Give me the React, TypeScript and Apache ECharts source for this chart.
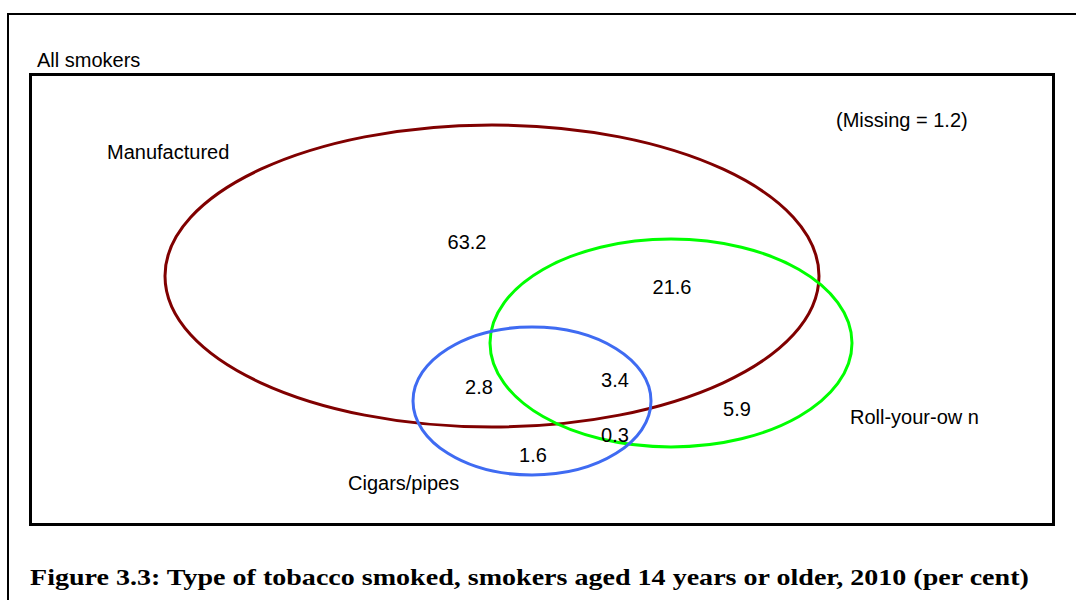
import React, { useEffect, useRef } from "react";
import * as echarts from "echarts";

// Set names and their ellipses (data for the Venn diagram)
const setNames = ["Manufactured", "Roll-your-ow n", "Cigars/pipes"];
const setColors = ["#800000", "#00ff00", "#3f6bf2"];
// ellipse geometry in chart units: [cx, cy, rx, ry]
const setEllipses = [
  [492, 276, 327, 151],
  [671, 343, 181, 104],
  [532, 401, 119, 74],
];
const setLabelPos = [
  [107, 152],
  [850, 417],
  [348, 483],
];

// Region values (per cent) and label anchors
const regionValues = ["63.2", "21.6", "2.8", "3.4", "5.9", "0.3", "1.6"];
const regionPos = [
  [467, 242],
  [672, 287],
  [479, 387],
  [615, 380],
  [737, 409],
  [615, 435],
  [533, 455],
];
const missingText = "(Missing = 1.2)";
const universeLabel = "All smokers";
const titleText =
  "Figure 3.3: Type of tobacco smoked, smokers aged 14 years or older, 2010 (per cent)";

const W = 1076;
const H = 600;
const SANS = "'Liberation Sans', Arial, sans-serif";
const FS = 20;

export default function App() {
  const ref = useRef<HTMLDivElement>(null);
  useEffect(() => {
    if (!ref.current) return;
    const chart = echarts.init(ref.current, null, { renderer: "svg" });
    const ellipseData = setEllipses.map((e, i) => [...e, i]);
    const setLabelData = setLabelPos.map((p, i) => [p[0], p[1], i]);
    const regionData = regionPos.map((p, i) => [p[0], p[1], i]);
    chart.setOption({
      animation: false,
      backgroundColor: "#ffffff",
      grid: { left: 0, right: 0, top: 0, bottom: 0 },
      xAxis: { type: "value", min: 0, max: W, show: false },
      yAxis: { type: "value", min: 0, max: H, inverse: true, show: false },
      graphic: [
        {
          type: "rect",
          shape: { x: 8, y: 14, width: 1100, height: 620 },
          style: { fill: "none", stroke: "#000", lineWidth: 2 },
          silent: true,
        },
        {
          type: "rect",
          shape: { x: 30.5, y: 74.5, width: 1023, height: 450 },
          style: { fill: "none", stroke: "#000", lineWidth: 3 },
          silent: true,
        },
        {
          type: "text",
          x: 37,
          y: 60,
          style: {
            text: universeLabel,
            font: `${FS}px ${SANS}`,
            fill: "#000",
            align: "left",
            verticalAlign: "middle",
          },
        },
        {
          type: "text",
          x: 836,
          y: 120,
          style: {
            text: missingText,
            font: `${FS}px ${SANS}`,
            fill: "#000",
            align: "left",
            verticalAlign: "middle",
          },
        },
        {
          type: "text",
          x: 30,
          y: 577,
          scaleX: 1.22,
          style: {
            text: titleText,
            font: `bold 23px 'Liberation Serif', 'DejaVu Serif', serif`,
            fill: "#000",
            align: "left",
            verticalAlign: "middle",
          },
        },
      ],
      series: [
        {
          type: "custom",
          coordinateSystem: "cartesian2d",
          data: ellipseData,
          renderItem: (params: any, api: any) => {
            const c = api.coord([api.value(0), api.value(1)]);
            const s = api.size([api.value(2), api.value(3)]);
            const idx = api.value(4);
            return {
              type: "ellipse",
              shape: { cx: c[0], cy: c[1], rx: s[0], ry: s[1] },
              style: { fill: "none", stroke: setColors[idx], lineWidth: 3 },
            };
          },
          silent: true,
        },
        {
          type: "custom",
          coordinateSystem: "cartesian2d",
          data: setLabelData,
          renderItem: (params: any, api: any) => {
            const c = api.coord([api.value(0), api.value(1)]);
            const idx = api.value(2);
            return {
              type: "text",
              x: c[0],
              y: c[1],
              style: {
                text: setNames[idx],
                font: `${FS}px ${SANS}`,
                fill: "#000",
                align: "left",
                verticalAlign: "middle",
              },
            };
          },
          silent: true,
        },
        {
          type: "custom",
          coordinateSystem: "cartesian2d",
          data: regionData,
          renderItem: (params: any, api: any) => {
            const c = api.coord([api.value(0), api.value(1)]);
            const idx = api.value(2);
            return {
              type: "text",
              x: c[0],
              y: c[1],
              style: {
                text: regionValues[idx],
                font: `${FS}px ${SANS}`,
                fill: "#000",
                align: "center",
                verticalAlign: "middle",
              },
            };
          },
          silent: true,
        },
      ],
    });
    return () => chart.dispose();
  }, []);
  return (
    <div
      ref={ref}
      style={{ position: "fixed", left: 0, top: 0, width: W, height: H, background: "#fff" }}
    />
  );
}
